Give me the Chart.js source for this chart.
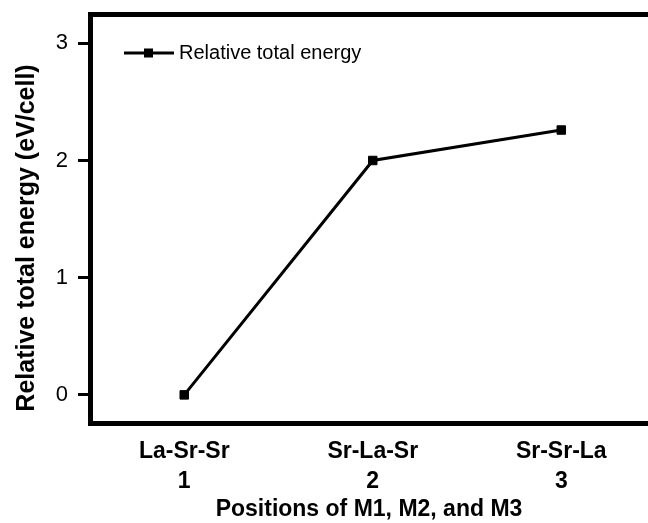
<!DOCTYPE html>
<html>
<head>
<meta charset="utf-8">
<script src="https://cdn.jsdelivr.net/npm/chart.js@4"></script>
<style>
    html, body { margin: 0; padding: 0; background: #fff; overflow: hidden; }
    #wrap { width: 648px; height: 523px; }
</style>
</head>
<body>
<div id="wrap"><canvas id="chart" width="648" height="523"></canvas></div>
<script>
const categories = ['La-Sr-Sr', 'Sr-La-Sr', 'Sr-Sr-La'];
const positions = [1, 2, 3];
const energies = [0, 2.0, 2.26];
const yTicks = [0, 1, 2, 3];

const FONT = 'Arial, "Liberation Sans", sans-serif';

// fixed axis box sizes, and no extra padding for overhanging labels
function fixBox(size) {
    return s => {
        if (s.isHorizontal()) s.height = size;
        else s.width = size;
        s.paddingTop = s.paddingBottom = s.paddingLeft = s.paddingRight = 0;
    };
}

/* legend drawn inside the plot, like the original */
const insideLegend = {
    id: 'insideLegend',
    afterDraw(chart) {
        const ctx = chart.ctx;
        const ds = chart.data.datasets[0];
        const y = 53;
        ctx.save();
        ctx.strokeStyle = ds.borderColor;
        ctx.lineWidth = ds.borderWidth;
        ctx.beginPath();
        ctx.moveTo(124, y);
        ctx.lineTo(174, y);
        ctx.stroke();
        ctx.fillStyle = ds.pointBackgroundColor;
        ctx.fillRect(144, y - 4.5, 9, 9);
        ctx.fillStyle = '#000';
        ctx.font = '20px ' + FONT;
        ctx.textBaseline = 'middle';
        ctx.textAlign = 'left';
        ctx.fillText(ds.label, 179, y);
        ctx.restore();
    }
};

/* y title, centred a bit lower than the plot area */
const yTitle = {
    id: 'yTitle',
    afterDraw(chart) {
        const ctx = chart.ctx;
        ctx.save();
        ctx.translate(27, 238);
        ctx.rotate(-Math.PI / 2);
        ctx.font = 'bold 25px ' + FONT;
        ctx.fillStyle = '#000';
        ctx.textAlign = 'center';
        ctx.textBaseline = 'middle';
        ctx.fillText('Relative total energy (eV/cell)', 0, 0);
        ctx.restore();
    }
};

new Chart(document.getElementById('chart'), {
    type: 'line',
    data: {
        datasets: [{
            label: 'Relative total energy',
            data: positions.map((p, i) => ({ x: p, y: energies[i] })),
            borderColor: '#000',
            borderWidth: 3,
            pointStyle: 'rect',
            pointRadius: 6,
            pointBorderWidth: 1,
            pointBackgroundColor: '#000',
            pointBorderColor: '#000',
            tension: 0,
        }]
    },
    options: {
        responsive: false,
        animation: false,
        layout: { padding: 0, autoPadding: false },
        plugins: {
            legend: { display: false },
            tooltip: { enabled: false }
        },
        scales: {
            x: {
                type: 'linear',
                position: 'bottom',
                min: 0.5,
                max: 3.46,
                afterBuildTicks: s => { s.ticks = positions.map(v => ({ value: v })); },
                afterFit: fixBox(100),
                grid: { display: false },
                border: { display: true, color: '#000', width: 5 },
                ticks: {
                    color: '#000',
                    padding: 6,
                    maxRotation: 0,
                    font: { family: FONT, size: 23, weight: 'bold', lineHeight: 1.3 },
                    callback: v => {
                        const i = positions.indexOf(v);
                        return i < 0 ? '' : [categories[i], String(v)];
                    }
                },
                title: {
                    display: true,
                    text: 'Positions of M1, M2, and M3',
                    color: '#000',
                    font: { family: FONT, size: 23, weight: 'bold' },
                    padding: { top: 0, bottom: 0 }
                }
            },
            xTop: {
                type: 'linear',
                position: 'top',
                min: 0.5,
                max: 3.46,
                afterFit: fixBox(14),
                grid: { display: false },
                ticks: { display: false },
                border: { display: true, color: '#000', width: 5 }
            },
            y: {
                min: -0.24,
                max: 3.25,
                afterBuildTicks: s => { s.ticks = yTicks.map(v => ({ value: v })); },
                afterFit: fixBox(90),
                grid: {
                    drawOnChartArea: false,
                    drawTicks: true,
                    tickLength: 12,
                    tickWidth: 3,
                    tickColor: '#000'
                },
                border: { display: true, color: '#000', width: 5 },
                ticks: {
                    color: '#000',
                    padding: 10,
                    font: { family: FONT, size: 22 }
                }
            }
        }
    },
    plugins: [insideLegend, yTitle]
});
</script>
</body>
</html>
